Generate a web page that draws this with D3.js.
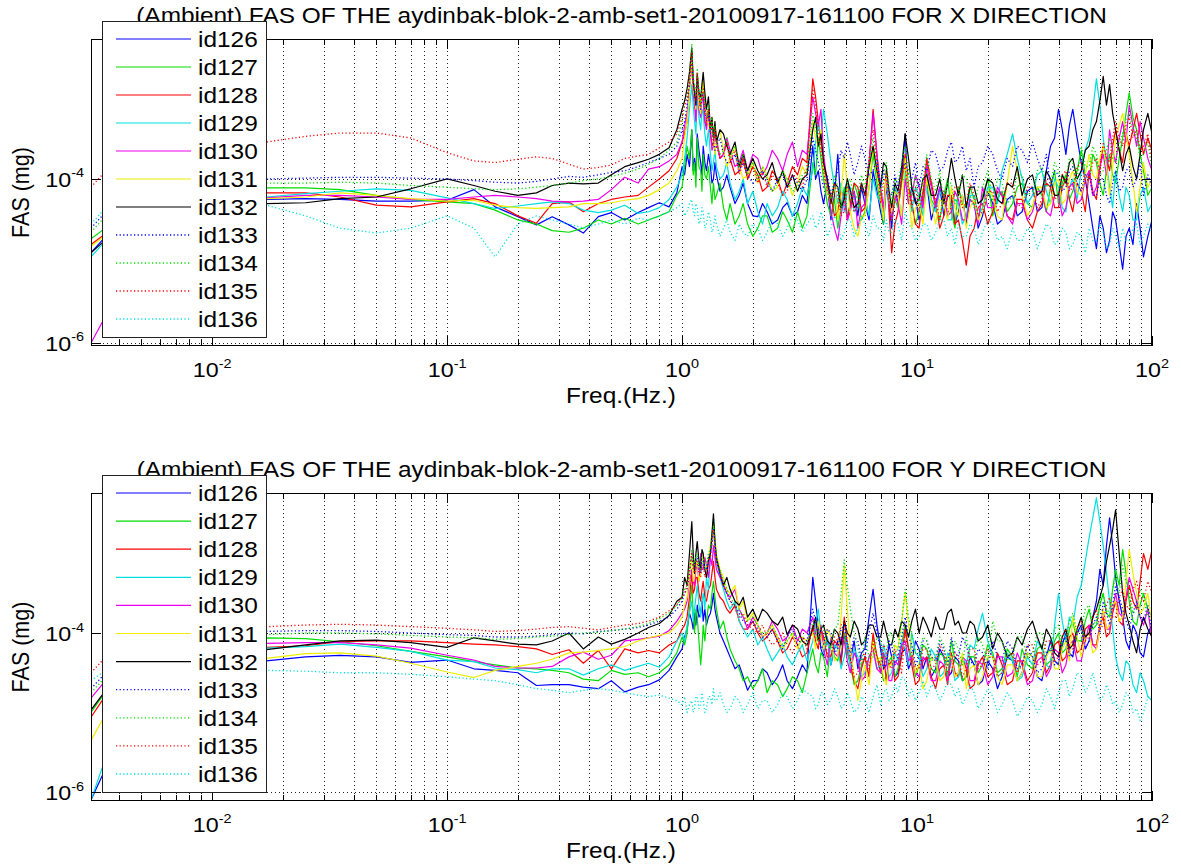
<!DOCTYPE html>
<html>
<head>
<meta charset="utf-8">
<script src="https://cdn.jsdelivr.net/npm/d3@7"></script>
<style>
  html, body { margin: 0; padding: 0; background: #fff; }
  svg text { font-family: "Liberation Sans", Arial, Helvetica, sans-serif; fill: #000; }
</style>
</head>
<body>
<svg id="fig" width="1181" height="868"></svg>
<script>
// ---------------------------------------------------------------
// Fourier amplitude spectra, ambient record, stations id126..id136
// values are log10(FAS in mg) on the shared frequency grid (Hz):
// 26 low-band samples, 41 around the 1 Hz peaks, 91 above 3.5 Hz
// ---------------------------------------------------------------
const freq = [
  0.00305, 0.0034, 0.005, 0.008, 0.012, 0.017, 0.025, 0.035, 0.05, 0.07, 0.1, 0.13, 0.16, 0.2, 0.24, 0.28, 0.33, 0.38, 0.44, 0.5, 0.57, 0.65, 0.72, 0.8, 0.88, 0.95,
  1.0, 1.025, 1.05, 1.075, 1.1, 1.115, 1.13, 1.145, 1.16, 1.18, 1.2, 1.215, 1.23, 1.25, 1.27, 1.295, 1.32, 1.34, 1.36, 1.38, 1.4, 1.45, 1.5, 1.55, 1.6, 1.68, 1.75, 1.82, 1.9, 2.0, 2.1, 2.2, 2.3, 2.42, 2.55, 2.68, 2.8, 2.95, 3.1, 3.25, 3.4,
  3.6, 3.7, 3.8, 3.9, 4.0, 4.15, 4.3, 4.45, 4.6, 4.75, 4.9, 5.05, 5.2, 5.4, 5.6, 5.8, 6.0, 6.25, 6.5, 6.75, 7.0, 7.2, 7.4, 7.6, 7.8, 8.05, 8.3, 8.6, 8.9, 9.2, 9.5, 9.85, 10.2, 10.6, 11, 11.5, 12, 12.5, 13, 13.5, 14, 14.5, 15, 15.6, 16.2, 16.8, 17.5, 18.2, 19, 20, 21, 22, 23, 24.2, 25.5, 26.7, 28, 29.5, 31, 32.5, 34, 35.5, 37, 38.5, 40, 41.5, 43, 44.5, 46, 48, 50, 52, 54, 56, 58, 60, 62, 64, 66, 68, 70, 72.5, 75, 77.5, 80, 83, 86, 89, 92, 96, 100
];

const stations = ["id126", "id127", "id128", "id129", "id130", "id131", "id132", "id133", "id134", "id135", "id136"];

// ---- X direction ----
const fasX126 = [
  -4.9, -4.75, -4.5, -4.35, -4.28, -4.25, -4.24, -4.25, -4.27, -4.27, -4.26, -4.13, -4.34, -4.46, -4.56, -4.46, -4.56, -4.66, -4.46, -4.41, -4.5, -4.41, -4.35, -4.29, -4.34, -4.17,
  -3.85, -3.95, -3.7, -3.85, -3.4, -3.9, -3.75, -3.95, -3.45, -3.65, -3.8, -3.95, -3.6, -3.8, -3.9, -3.7, -3.85, -4.05, -4.0, -3.8, -3.95, -4.15, -4.1, -3.95, -4.1, -4.3, -4.2, -4.05, -4.3, -4.45, -4.46, -4.3, -4.4, -4.55, -4.5, -4.35, -4.29, -4.45, -4.4, -4.2, -4.3,
  -3.6, -4.0, -3.9, -4.15, -4.3, -4.05, -4.5, -4.2, -3.7, -4.35, -4.2, -4.0, -4.35, -4.15, -4.45, -4.1, -4.3, -4.5, -3.9, -4.15, -4.4, -4.55, -4.1, -4.3, -4.6, -4.1, -4.3, -4.0, -3.45, -4.3,
  -4.1, -4.25, -4.5, -4.3, -4.05, -4.5, -4.3, -4.1, -4.45, -4.2, -4.25, -4.55, -4.4, -4.2, -4.55, -4.25, -4.3, -4.6, -4.45, -4.15, -4.3, -4.55, -4.5, -4.25, -4.2, -4.45, -4.4, -4.15, -4.1, -4.4,
  -4.35, -3.9, -3.6, -3.5, -3.15, -3.4, -3.7, -3.35, -3.15, -3.5, -3.8, -4.0, -4.3, -4.6, -4.85, -4.45, -4.6, -4.9, -4.75, -4.4, -4.5, -4.8, -5.1, -4.7, -4.6, -4.8, -4.3, -4.6, -4.95, -4.7, -4.5
];
const fasX127 = [
  -4.73, -4.63, -4.35, -4.18, -4.12, -4.11, -4.11, -4.13, -4.2, -4.25, -4.28, -4.3, -4.38, -4.5, -4.55, -4.63, -4.65, -4.6, -4.5, -4.55, -4.48, -4.55, -4.5, -4.45, -4.4, -4.2,
  -4.1, -3.85, -3.6, -3.75, -3.4, -3.95, -3.8, -4.1, -3.5, -3.85, -3.9, -4.15, -3.7, -3.95, -4.0, -3.85, -4.1, -4.3, -4.05, -4.25, -4.2, -4.05, -4.35, -4.5, -4.3, -4.55, -4.45, -4.3, -4.55, -4.7, -4.6, -4.45, -4.45, -4.65, -4.6, -4.4, -4.5, -4.65, -4.4, -4.6, -4.45,
  -3.8, -3.95, -3.5, -3.75, -4.0, -4.3, -4.45, -4.25, -4.6, -4.35, -4.1, -4.45, -4.3, -4.05, -4.2, -4.5, -4.4, -4.1, -3.7, -4.05, -4.3, -4.55, -3.9, -4.2, -4.5, -4.25, -4.35, -4.05, -3.8, -4.1,
  -4.3, -4.55, -4.4, -4.15, -3.9, -4.25, -4.35, -4.5, -4.2, -4.0, -4.4, -4.6, -4.1, -4.3, -4.35, -4.1, -4.25, -4.5, -4.2, -4.0, -4.45, -4.25, -4.15, -4.4, -4.3, -4.1, -4.05, -4.3, -4.35, -4.1,
  -4.2, -4.4, -4.1, -3.9, -4.3, -4.05, -3.95, -4.25, -4.15, -3.9, -3.65, -3.95, -4.0, -3.7, -3.8, -4.05, -4.2, -3.9, -3.7, -3.95, -4.05, -3.75, -3.5, -3.2, -2.95, -3.25, -3.4, -3.7, -3.9, -4.2, -4.1
];
const fasX128 = [
  -4.8, -4.7, -4.4, -4.25, -4.19, -4.17, -4.17, -4.22, -4.32, -4.34, -4.28, -4.24, -4.3, -4.45, -4.54, -4.3, -4.28, -4.4, -4.3, -4.25, -4.22, -4.2, -4.1, -4.0, -3.9, -3.75,
  -3.55, -3.45, -3.3, -2.9, -2.45, -2.85, -3.0, -3.2, -2.75, -3.05, -3.2, -2.95, -3.0, -3.3, -3.35, -3.15, -3.4, -3.6, -3.55, -3.35, -3.5, -3.75, -3.7, -3.55, -3.75, -3.95, -3.9, -3.75, -4.0, -3.85, -3.95, -4.15, -4.1, -3.9, -4.0, -4.2, -4.05, -3.85, -3.95, -3.75, -3.8,
  -2.78, -3.0, -3.3, -3.55, -3.8, -4.05, -4.2, -4.45, -4.4, -4.15, -4.2, -4.5, -4.3, -4.05, -4.1, -4.4, -4.35, -3.8, -3.15, -3.7, -4.2, -4.4, -3.9, -4.4, -4.9, -4.55, -4.4, -4.0, -3.7, -4.1,
  -4.3, -4.55, -4.6, -4.2, -3.75, -4.05, -4.3, -4.6, -4.45, -4.2, -4.2, -4.55, -4.5, -4.75, -5.05, -4.7, -4.6, -4.35, -4.3, -4.55, -4.4, -4.15, -4.2, -4.45, -4.5, -4.25, -4.25, -4.5, -4.6, -4.4,
  -4.3, -4.05, -4.1, -4.35, -4.35, -4.1, -4.0, -4.25, -4.4, -4.05, -4.15, -4.4, -3.9, -4.15, -4.25, -3.85, -3.6, -3.75, -3.9, -3.6, -3.4, -3.65, -3.8, -3.45, -3.6, -3.4, -3.2, -3.45, -3.7, -3.5, -3.65
];
const fasX129 = [
  -4.95, -4.8, -4.45, -4.28, -4.22, -4.22, -4.18, -4.15, -4.12, -4.14, -4.23, -4.3, -4.36, -4.33, -4.3, -4.28, -4.3, -4.38, -4.41, -4.38, -4.32, -4.42, -4.4, -4.35, -4.25, -4.1,
  -3.95, -3.75, -3.5, -3.15, -2.85, -3.1, -3.3, -3.45, -2.95, -3.25, -3.4, -3.15, -3.2, -3.45, -3.6, -3.4, -3.7, -3.9, -3.8, -3.65, -3.85, -4.0, -3.95, -3.8, -4.05, -4.25, -4.15, -4.0, -4.3, -4.15, -4.4, -4.55, -4.3, -4.45, -4.35, -4.15, -4.25, -4.45, -4.3, -4.1, -4.2,
  -3.9, -3.55, -3.3, -3.5, -3.15, -3.45, -3.8, -4.1, -4.3, -4.05, -4.4, -4.15, -4.1, -4.4, -4.35, -4.05, -4.2, -4.45, -4.0, -4.2, -4.3, -4.5, -4.05, -4.3, -4.4, -4.1, -4.2, -4.45, -3.9, -4.2,
  -4.4, -4.1, -4.2, -4.45, -4.1, -4.3, -4.4, -4.15, -4.25, -4.5, -4.5, -4.25, -4.3, -4.55, -4.45, -4.2, -4.2, -4.45, -4.35, -4.1, -4.1, -4.3, -3.9, -3.7, -3.45, -3.75, -4.0, -4.3, -4.2, -3.95,
  -3.9, -4.15, -4.3, -4.0, -4.1, -4.35, -4.4, -4.1, -4.0, -4.25, -3.9, -3.65, -3.5, -3.15, -2.78, -3.1, -3.5, -3.8, -4.1, -4.35, -3.9, -4.2, -4.4, -4.1, -4.2, -4.5, -4.5, -4.2, -4.1, -4.4, -4.3
];
const fasX130 = [
  -6.0, -5.75, -5.0, -4.45, -4.27, -4.23, -4.2, -4.2, -4.22, -4.25, -4.25, -4.22, -4.2, -4.22, -4.24, -4.27, -4.28, -4.27, -4.25, -4.13, -3.98, -4.05, -3.88, -3.85, -3.78, -3.7,
  -3.55, -3.35, -3.2, -2.9, -2.6, -2.95, -3.1, -3.3, -2.85, -3.15, -3.25, -3.0, -3.05, -3.3, -3.4, -3.2, -3.45, -3.65, -3.6, -3.4, -3.55, -3.75, -3.7, -3.5, -3.65, -3.85, -3.8, -3.65, -3.9, -3.7, -3.75, -3.95, -3.85, -3.65, -3.75, -3.9, -3.7, -3.55, -3.85, -3.65, -3.7,
  -3.0, -3.2, -3.35, -3.15, -3.7, -4.05, -4.4, -4.6, -4.75, -4.45, -4.2, -4.5, -4.4, -4.15, -4.6, -4.35, -4.3, -3.8, -3.2, -3.7, -4.1, -4.35, -4.0, -4.25, -4.5, -4.2, -4.3, -4.55, -4.0, -4.3,
  -4.2, -3.95, -4.1, -4.35, -3.85, -4.1, -4.35, -4.1, -4.2, -4.45, -4.4, -4.15, -4.25, -4.5, -4.5, -4.25, -4.3, -4.55, -4.1, -4.35, -4.35, -4.1, -4.2, -4.45, -4.55, -4.3, -4.3, -4.5, -4.4, -4.15,
  -4.15, -4.4, -4.45, -4.2, -4.2, -4.45, -4.35, -4.1, -4.05, -4.3, -4.25, -4.0, -3.9, -4.2, -4.1, -3.85, -3.7, -3.95, -3.4, -3.65, -3.8, -3.5, -3.3, -3.55, -3.1, -3.35, -3.6, -3.3, -3.5, -3.75, -3.9
];
const fasX131 = [
  -4.82, -4.72, -4.45, -4.3, -4.25, -4.24, -4.22, -4.17, -4.2, -4.24, -4.27, -4.26, -4.32, -4.35, -4.36, -4.35, -4.34, -4.3, -4.3, -4.29, -4.26, -4.24, -4.2, -4.13, -4.05, -3.9,
  -3.75, -3.5, -3.3, -2.95, -2.5, -2.9, -3.0, -3.15, -2.8, -3.1, -3.2, -2.95, -2.78, -3.05, -3.2, -3.35, -3.4, -3.25, -3.5, -3.7, -3.55, -3.4, -3.65, -3.85, -3.75, -3.6, -3.85, -4.0, -3.95, -3.8, -4.05, -3.85, -3.95, -4.15, -4.1, -3.9, -4.0, -4.2, -4.05, -3.85, -3.95,
  -3.3, -3.5, -3.6, -3.4, -3.9, -4.15, -4.3, -4.05, -4.5, -4.2, -3.7, -4.1, -4.4, -4.6, -4.7, -4.45, -4.45, -4.1, -3.6, -3.95, -4.25, -4.5, -3.95, -4.2, -4.4, -4.15, -4.2, -4.45, -3.75, -4.15,
  -4.6, -4.35, -4.3, -4.55, -4.0, -4.3, -4.55, -4.25, -4.3, -4.5, -4.1, -4.35, -4.45, -4.2, -4.6, -4.35, -4.25, -4.5, -4.4, -4.15, -4.2, -4.45, -4.5, -4.05, -3.6, -3.9, -4.2, -4.45, -4.35, -4.1,
  -4.1, -4.35, -4.3, -4.05, -4.0, -4.3, -4.25, -4.0, -3.9, -4.15, -4.2, -3.95, -3.7, -3.95, -4.0, -3.75, -3.6, -3.85, -4.2, -3.85, -3.5, -3.35, -3.2, -3.45, -3.7, -4.05, -4.4, -4.1, -3.8, -4.1, -4.0
];
const fasX132 = [
  -4.9, -4.78, -4.5, -4.35, -4.3, -4.3, -4.29, -4.24, -4.22, -4.12, -4.0, -4.08, -4.15, -4.2, -4.17, -4.08, -4.05, -4.06, -4.05, -3.95, -3.85, -3.8, -3.76, -3.7, -3.62, -3.4,
  -3.15, -3.05, -2.9, -2.7, -2.4, -2.8, -2.95, -3.1, -2.72, -2.95, -3.0, -2.85, -2.7, -2.95, -3.15, -3.0, -3.4, -3.25, -3.5, -3.3, -3.55, -3.4, -3.45, -3.6, -3.7, -3.55, -3.85, -3.7, -3.9, -3.75, -3.9, -4.0, -3.95, -3.8, -4.05, -3.9, -4.1, -3.95, -4.15, -4.0, -3.95,
  -3.4, -3.25, -3.6, -3.45, -3.8, -4.0, -4.3, -4.05, -4.1, -4.35, -4.25, -4.0, -4.15, -4.35, -4.3, -4.05, -4.2, -3.85, -3.6, -3.9, -4.1, -3.8, -3.85, -4.15, -4.35, -4.05, -4.15, -3.85, -3.45, -3.75,
  -4.1, -4.3, -4.25, -4.0, -3.95, -4.2, -4.2, -4.0, -4.3, -4.05, -3.75, -4.0, -4.2, -3.95, -4.35, -4.1, -4.1, -4.3, -4.25, -4.0, -4.05, -4.25, -4.3, -4.05, -4.1, -3.85, -4.2, -4.0, -3.95, -4.2,
  -4.15, -3.9, -4.0, -4.2, -4.2, -3.95, -4.05, -3.8, -3.75, -4.0, -3.9, -3.65, -3.6, -3.4, -3.3, -3.05, -2.75, -3.1, -2.85, -3.2, -3.4, -3.65, -3.9, -3.7, -3.6, -3.85, -4.0, -3.7, -3.4, -3.2, -3.45
];
const fasX133 = [
  -4.6, -4.45, -4.2, -4.08, -4.02, -4.0, -3.99, -3.98, -3.98, -3.99, -4.0, -4.02, -4.04, -4.05, -4.03, -4.0, -3.97, -3.98, -3.95, -3.92, -3.9, -3.85, -3.8, -3.75, -3.7, -3.6,
  -3.4, -3.3, -3.1, -2.85, -2.5, -2.85, -2.95, -3.1, -2.8, -3.0, -3.15, -3.0, -2.95, -3.15, -3.3, -3.2, -3.45, -3.35, -3.55, -3.65, -3.6, -3.5, -3.7, -3.8, -3.8, -3.7, -3.9, -3.8, -3.95, -4.05, -4.0, -3.9, -4.05, -4.15, -4.0, -3.95, -4.1, -3.95, -4.05, -4.15, -4.0,
  -3.5, -3.65, -3.8, -3.95, -4.1, -3.95, -4.2, -4.05, -3.9, -3.65, -3.75, -3.55, -3.7, -3.95, -3.8, -3.6, -3.75, -3.95, -3.9, -3.75, -4.1, -3.9, -4.0, -4.15, -4.2, -3.95, -4.1, -3.9, -3.8, -3.95,
  -4.0, -3.8, -4.1, -3.85, -3.9, -3.65, -3.7, -3.9, -3.85, -3.65, -3.55, -3.8, -3.75, -3.6, -3.9, -3.75, -4.1, -3.85, -3.8, -3.6, -3.7, -3.9, -4.0, -3.75, -3.85, -3.6, -3.65, -3.8, -3.55, -3.75,
  -3.9, -3.7, -4.1, -3.9, -3.95, -4.15, -4.1, -3.9, -3.85, -4.05, -4.15, -3.95, -3.95, -4.2, -4.2, -4.0, -4.0, -4.2, -4.3, -4.05, -3.9, -4.15, -4.1, -3.9, -3.85, -4.1, -4.0, -3.8, -4.2, -3.95, -4.1
];
const fasX134 = [
  -4.65, -4.5, -4.25, -4.12, -4.07, -4.05, -4.05, -4.04, -4.05, -4.08, -4.1, -4.12, -4.13, -4.12, -4.1, -4.08, -4.05, -4.02, -4.0, -3.97, -3.93, -3.88, -3.82, -3.75, -3.65, -3.55,
  -3.3, -3.1, -3.0, -2.75, -2.35, -2.75, -2.85, -3.0, -2.65, -2.95, -3.1, -2.9, -2.9, -3.1, -3.25, -3.1, -3.4, -3.25, -3.5, -3.35, -3.55, -3.7, -3.65, -3.5, -3.75, -3.6, -3.85, -3.7, -3.95, -3.8, -4.0, -3.85, -4.0, -4.15, -4.05, -3.9, -4.0, -4.15, -4.1, -3.95, -3.9,
  -3.2, -3.4, -3.5, -3.7, -3.9, -4.1, -4.25, -3.95, -4.1, -4.35, -4.3, -4.05, -4.0, -4.25, -4.2, -3.95, -4.1, -3.8, -3.5, -3.85, -4.2, -3.95, -3.8, -4.1, -4.3, -4.0, -4.05, -3.8, -3.6, -3.9,
  -4.2, -3.95, -4.3, -4.0, -3.7, -4.0, -4.15, -3.9, -4.3, -4.05, -4.05, -4.3, -4.2, -3.95, -4.0, -4.2, -4.35, -4.1, -4.1, -3.9, -4.25, -4.0, -4.05, -4.3, -4.2, -3.95, -3.95, -4.2, -4.15, -3.9,
  -3.85, -4.1, -4.05, -3.8, -3.9, -4.1, -4.0, -3.75, -3.8, -4.0, -3.6, -3.85, -3.85, -3.6, -3.7, -3.95, -3.9, -3.65, -3.5, -3.75, -3.8, -3.55, -3.45, -3.3, -3.2, -3.4, -3.5, -3.75, -3.7, -3.55, -3.9
];
const fasX135 = [
  -4.1, -3.95, -3.7, -3.6, -3.56, -3.55, -3.48, -3.44, -3.44, -3.5, -3.68, -3.78, -3.8, -3.76, -3.73, -3.75, -3.82, -3.88, -3.86, -3.83, -3.75, -3.72, -3.7, -3.62, -3.55, -3.45,
  -3.25, -3.1, -3.0, -2.8, -2.45, -2.8, -2.9, -3.05, -2.7, -2.95, -3.1, -2.95, -2.9, -3.1, -3.3, -3.15, -3.45, -3.3, -3.55, -3.4, -3.6, -3.75, -3.7, -3.55, -3.8, -3.65, -3.95, -3.8, -4.0, -3.85, -4.05, -3.9, -4.1, -3.95, -4.05, -4.2, -4.15, -3.95, -4.0, -4.1, -3.85,
  -2.9, -3.1, -3.4, -3.65, -3.9, -4.15, -4.3, -4.05, -4.2, -4.45, -4.4, -4.1, -4.15, -4.4, -4.35, -4.05, -4.2, -3.75, -3.4, -3.8, -4.3, -4.05, -3.95, -4.25, -4.5, -4.25, -4.2, -3.95, -3.85, -4.15,
  -4.35, -4.1, -4.4, -4.15, -3.8, -4.05, -4.25, -4.5, -4.15, -4.4, -4.35, -4.1, -4.1, -4.35, -4.3, -4.05, -4.2, -4.45, -4.4, -4.15, -4.15, -4.4, -4.3, -4.05, -4.05, -4.3, -4.35, -4.1, -4.1, -4.35,
  -4.25, -4.0, -4.0, -4.25, -4.2, -3.95, -3.9, -4.15, -4.1, -3.85, -3.8, -4.05, -4.0, -3.8, -3.75, -3.95, -3.55, -3.75, -3.8, -3.5, -3.3, -3.5, -3.6, -3.35, -3.25, -3.5, -3.4, -3.65, -3.6, -3.45, -3.8
];
const fasX136 = [
  -4.55, -4.4, -4.3, -4.28, -4.3, -4.32, -4.45, -4.6, -4.66, -4.6, -4.45, -4.6, -4.95, -4.55, -4.45, -4.5, -4.55, -4.6, -4.55, -4.5, -4.55, -4.48, -4.5, -4.45, -4.4, -4.35,
  -4.3, -4.45, -4.4, -4.3, -4.25, -4.4, -4.45, -4.3, -4.35, -4.55, -4.5, -4.35, -4.4, -4.6, -4.55, -4.4, -4.5, -4.65, -4.6, -4.45, -4.55, -4.7, -4.6, -4.5, -4.65, -4.75, -4.55, -4.65, -4.7, -4.55, -4.6, -4.75, -4.65, -4.5, -4.55, -4.7, -4.6, -4.45, -4.5, -4.65, -4.55,
  -4.45, -4.6, -4.55, -4.4, -4.5, -4.7, -4.6, -4.45, -4.55, -4.75, -4.65, -4.5, -4.5, -4.7, -4.6, -4.45, -4.55, -4.7, -4.45, -4.6, -4.6, -4.75, -4.5, -4.65, -4.65, -4.5, -4.55, -4.75, -4.4, -4.55,
  -4.6, -4.75, -4.7, -4.55, -4.55, -4.75, -4.65, -4.5, -4.5, -4.7, -4.6, -4.8, -4.55, -4.7, -4.7, -4.55, -4.6, -4.8, -4.65, -4.5, -4.55, -4.75, -4.7, -4.85, -4.6, -4.75, -4.75, -4.6, -4.65, -4.85,
  -4.7, -4.55, -4.6, -4.8, -4.75, -4.6, -4.65, -4.85, -4.8, -4.65, -4.7, -4.9, -4.6, -4.75, -4.75, -4.55, -4.65, -4.85, -4.8, -4.6, -4.7, -4.85, -4.6, -4.75, -4.75, -4.6, -4.55, -4.8, -4.7, -4.55, -4.65
];

// ---- Y direction ----
const fasY126 = [
  -6.1, -5.8, -4.9, -4.5, -4.38, -4.35, -4.3, -4.28, -4.3, -4.37, -4.34, -4.45, -4.47, -4.5, -4.66, -4.65, -4.65, -4.68, -4.7, -4.6, -4.74, -4.68, -4.65, -4.59, -4.47, -4.3,
  -4.2, -4.05, -3.95, -3.75, -3.85, -3.95, -3.75, -3.9, -3.65, -3.8, -3.75, -3.6, -3.85, -3.7, -3.9, -3.8, -3.75, -3.65, -3.5, -3.7, -3.8, -4.0, -4.1, -4.2, -4.3, -4.45, -4.4, -4.55, -4.72, -4.6, -4.6, -4.45, -4.5, -4.65, -4.55, -4.4, -4.6, -4.7, -4.55, -4.4, -4.5,
  -3.3, -3.6, -3.9, -4.2, -4.3, -4.05, -4.4, -4.2, -4.1, -4.35, -4.0, -4.25, -4.35, -4.1, -4.45, -4.25, -4.2, -3.8, -3.45, -3.9, -4.2, -4.45, -4.4, -4.15, -4.3, -4.55, -4.5, -4.25, -4.2, -4.45,
  -4.35, -4.1, -4.2, -4.45, -4.3, -4.55, -4.45, -4.2, -4.3, -4.55, -4.5, -4.3, -4.35, -4.6, -4.55, -4.3, -4.4, -4.65, -4.6, -4.35, -4.45, -4.7, -4.55, -4.3, -4.35, -4.6, -4.5, -4.25, -4.3, -4.55,
  -4.6, -4.3, -4.1, -4.35, -4.4, -4.15, -4.0, -4.25, -4.3, -4.0, -3.9, -4.2, -4.1, -3.8, -3.6, -3.2, -3.4, -2.9, -2.55, -2.9, -3.3, -3.6, -3.8, -4.1, -4.2, -3.9, -4.0, -4.25, -4.3, -4.0, -3.9
];
const fasY127 = [
  -5.0, -4.8, -4.3, -4.12, -4.07, -4.06, -4.07, -4.11, -4.16, -4.23, -4.3, -4.36, -4.4, -4.44, -4.45, -4.47, -4.5, -4.58, -4.6, -4.47, -4.52, -4.5, -4.55, -4.5, -4.4, -4.25,
  -4.05, -4.15, -4.0, -3.7, -3.4, -3.75, -4.0, -3.7, -3.8, -4.1, -4.4, -4.2, -3.9, -4.1, -3.85, -3.65, -3.7, -3.5, -3.35, -3.55, -3.7, -3.95, -3.85, -4.05, -4.2, -4.35, -4.45, -4.6, -4.55, -4.7, -4.6, -4.45, -4.75, -4.6, -4.65, -4.8, -4.7, -4.55, -4.6, -4.75, -4.5,
  -4.2, -4.4, -4.5, -4.25, -4.3, -4.55, -4.1, -4.3, -4.35, -4.1, -4.0, -4.25, -4.4, -4.65, -4.6, -4.4, -4.3, -4.55, -4.05, -4.3, -4.4, -4.6, -4.55, -4.35, -4.3, -4.55, -4.45, -4.15, -3.9, -4.2,
  -4.3, -4.55, -4.4, -4.15, -4.2, -4.45, -4.5, -4.25, -4.3, -4.55, -4.1, -4.35, -4.4, -4.6, -4.55, -4.3, -4.3, -4.5, -4.4, -4.15, -4.25, -4.5, -4.45, -4.2, -4.3, -4.55, -4.2, -4.4, -4.45, -4.2,
  -4.15, -4.4, -4.35, -4.1, -4.0, -4.25, -4.2, -3.95, -3.85, -4.1, -4.1, -3.85, -3.7, -3.95, -3.9, -3.65, -3.5, -3.75, -3.8, -3.45, -3.2, -3.4, -2.95, -3.25, -3.6, -3.85, -3.9, -3.65, -3.5, -3.7, -3.8
];
const fasY128 = [
  -5.06, -4.85, -4.35, -4.2, -4.18, -4.18, -4.16, -4.11, -4.1, -4.1, -4.12, -4.14, -4.15, -4.17, -4.2, -4.27, -4.21, -4.38, -4.22, -4.45, -4.2, -4.25, -4.22, -4.25, -4.15, -4.1,
  -3.95, -3.9, -3.8, -3.55, -3.25, -3.5, -3.45, -3.3, -3.3, -3.5, -3.6, -3.45, -3.35, -3.55, -3.6, -3.45, -3.4, -3.25, -3.1, -3.3, -3.45, -3.55, -3.6, -3.7, -3.75, -3.65, -3.85, -3.95, -3.95, -3.85, -4.0, -4.1, -4.05, -3.95, -4.1, -4.25, -4.2, -4.05, -4.15, -4.3, -4.25,
  -3.9, -4.1, -4.2, -3.95, -4.05, -4.3, -4.3, -4.1, -4.15, -4.4, -3.8, -4.15, -4.4, -4.6, -4.7, -4.45, -4.3, -4.55, -4.0, -4.3, -4.5, -4.25, -4.6, -4.4, -4.35, -4.6, -4.55, -4.3, -3.95, -4.2,
  -4.4, -4.65, -4.6, -4.35, -4.3, -4.55, -4.7, -4.45, -4.4, -4.65, -4.25, -4.5, -4.55, -4.3, -4.45, -4.7, -4.65, -4.4, -4.3, -4.55, -4.5, -4.25, -4.4, -4.65, -4.6, -4.35, -4.35, -4.6, -4.5, -4.25,
  -4.25, -4.5, -4.4, -4.15, -4.1, -4.35, -4.3, -4.05, -4.0, -4.25, -4.2, -3.95, -3.9, -4.15, -4.15, -3.9, -3.8, -4.05, -4.0, -3.75, -3.6, -3.85, -3.9, -3.6, -3.4, -3.6, -3.7, -3.35, -3.0, -3.2, -2.95
];
const fasY129 = [
  -6.1, -5.7, -4.7, -4.3, -4.2, -4.19, -4.17, -4.14, -4.18, -4.23, -4.34, -4.36, -4.44, -4.46, -4.5, -4.45, -4.45, -4.53, -4.45, -4.4, -4.47, -4.42, -4.38, -4.43, -4.3, -4.1,
  -4.0, -4.1, -3.9, -3.75, -3.6, -3.85, -3.7, -3.55, -3.4, -3.65, -3.8, -3.6, -3.5, -3.7, -3.3, -3.45, -3.0, -2.8, -2.55, -2.85, -3.1, -3.3, -3.45, -3.6, -3.7, -3.6, -3.85, -3.95, -4.05, -3.95, -4.15, -4.05, -4.2, -4.35, -4.25, -4.15, -4.3, -4.4, -4.25, -4.15, -4.35,
  -4.1, -3.9, -3.7, -4.0, -4.25, -4.05, -4.4, -4.15, -4.2, -4.45, -4.3, -4.1, -4.45, -4.2, -4.3, -4.55, -4.5, -4.3, -4.2, -4.45, -4.4, -4.15, -4.3, -4.55, -4.5, -4.25, -4.35, -4.1, -4.2, -4.4,
  -4.0, -4.25, -4.3, -4.55, -4.45, -4.2, -4.3, -4.55, -4.5, -4.25, -4.35, -4.6, -4.55, -4.3, -4.4, -4.15, -4.2, -3.95, -3.75, -4.1, -4.3, -4.55, -4.5, -4.25, -4.35, -4.6, -4.55, -4.3, -4.4, -4.1,
  -4.2, -4.4, -4.45, -3.9, -3.5, -3.85, -4.1, -3.8, -3.9, -3.55, -3.4, -3.1, -2.8, -2.55, -2.3, -2.6, -2.9, -3.25, -3.6, -3.95, -4.3, -4.5, -4.6, -4.35, -4.4, -4.65, -4.75, -4.5, -4.6, -4.8, -4.85
];
const fasY130 = [
  -4.82, -4.65, -4.28, -4.15, -4.13, -4.13, -4.12, -4.12, -4.15, -4.19, -4.28, -4.34, -4.42, -4.44, -4.44, -4.42, -4.3, -4.24, -4.33, -4.28, -4.1, -4.08, -4.06, -4.04, -3.97, -3.85,
  -3.75, -3.7, -3.6, -3.35, -3.2, -3.35, -3.4, -3.2, -3.15, -3.35, -3.0, -3.2, -3.2, -3.05, -3.15, -3.3, -3.05, -3.15, -2.9, -3.05, -3.2, -3.3, -3.4, -3.5, -3.55, -3.45, -3.7, -3.8, -3.95, -3.8, -3.9, -4.05, -4.0, -3.85, -3.95, -4.1, -4.05, -3.9, -4.1, -3.95, -4.0,
  -3.8, -4.0, -4.1, -3.9, -4.2, -4.4, -4.05, -4.25, -4.3, -4.05, -4.1, -4.35, -4.5, -4.25, -4.35, -4.6, -4.55, -4.3, -4.2, -4.45, -4.5, -4.25, -4.35, -4.6, -4.6, -4.35, -4.4, -4.15, -4.1, -4.35,
  -4.3, -4.5, -4.55, -4.3, -4.35, -4.6, -4.6, -4.35, -4.4, -4.6, -4.3, -4.55, -4.5, -4.3, -4.35, -4.6, -4.6, -4.35, -4.4, -4.65, -4.55, -4.3, -4.3, -4.55, -4.5, -4.25, -4.4, -4.65, -4.6, -4.35,
  -4.3, -4.55, -4.45, -4.2, -4.25, -4.5, -4.4, -4.15, -4.1, -4.35, -4.35, -4.1, -3.9, -4.15, -4.2, -3.95, -3.7, -3.95, -3.95, -3.7, -3.5, -3.75, -3.8, -3.55, -3.3, -3.45, -3.6, -3.8, -3.9, -3.7, -4.1
];
const fasY131 = [
  -5.35, -5.1, -4.55, -4.35, -4.32, -4.32, -4.26, -4.25, -4.29, -4.38, -4.49, -4.56, -4.47, -4.42, -4.38, -4.33, -4.25, -4.24, -4.22, -4.2, -4.17, -4.1, -4.06, -4.03, -4.0, -3.9,
  -3.8, -3.65, -3.55, -3.3, -3.05, -3.35, -3.3, -3.15, -3.1, -3.35, -3.25, -3.1, -3.0, -3.2, -3.2, -3.05, -2.9, -2.75, -2.6, -2.8, -3.0, -3.2, -3.3, -3.45, -3.5, -3.4, -3.7, -3.6, -3.85, -3.75, -3.9, -4.05, -4.0, -3.9, -4.05, -4.2, -4.1, -4.0, -4.2, -4.05, -4.1,
  -4.0, -4.2, -3.85, -4.05, -4.2, -3.95, -4.05, -4.35, -4.3, -3.8, -3.15, -3.7, -4.2, -4.55, -4.85, -4.6, -4.4, -4.65, -4.1, -4.35, -4.3, -4.55, -4.65, -4.4, -4.4, -4.15, -4.2, -3.85, -3.5, -3.9,
  -4.2, -4.5, -4.4, -4.7, -4.6, -4.3, -4.35, -4.6, -4.55, -4.3, -4.3, -4.55, -4.5, -4.25, -4.7, -4.45, -4.4, -4.65, -4.55, -4.3, -4.3, -4.55, -4.65, -4.4, -4.4, -4.6, -4.5, -4.25, -4.3, -4.55,
  -4.55, -4.3, -4.2, -4.45, -4.45, -4.2, -4.1, -4.35, -3.8, -4.05, -4.3, -4.05, -4.0, -4.25, -4.2, -3.95, -3.7, -3.95, -3.9, -3.65, -3.6, -3.85, -3.8, -3.35, -2.95, -3.25, -3.5, -3.75, -3.7, -3.5, -3.9
];
const fasY132 = [
  -4.97, -4.78, -4.4, -4.25, -4.22, -4.21, -4.15, -4.1, -4.09, -4.12, -4.18, -4.06, -4.1, -4.14, -4.15, -4.1, -4.0, -4.2, -4.05, -4.14, -4.08, -4.0, -3.93, -3.88, -3.78, -3.6,
  -3.55, -3.3, -3.4, -3.0, -2.6, -3.0, -3.25, -3.0, -2.85, -3.1, -3.2, -2.95, -3.0, -3.2, -3.3, -3.1, -3.0, -2.75, -2.5, -2.85, -3.05, -3.25, -3.4, -3.3, -3.45, -3.6, -3.65, -3.55, -3.8, -3.7, -3.85, -3.7, -3.75, -3.85, -3.9, -3.8, -4.02, -3.9, -3.95, -4.1, -4.15,
  -3.95, -3.8, -4.1, -3.95, -3.9, -4.1, -4.15, -3.95, -4.0, -4.15, -3.85, -4.0, -4.05, -3.85, -3.95, -4.15, -4.1, -3.9, -3.9, -4.05, -4.05, -3.85, -4.0, -4.15, -4.15, -3.95, -4.05, -3.85, -3.9, -4.05,
  -3.85, -3.7, -4.0, -3.8, -3.9, -4.05, -3.8, -3.95, -3.95, -3.75, -3.7, -3.9, -3.85, -4.0, -4.0, -3.85, -3.9, -4.1, -4.05, -3.9, -4.2, -4.0, -4.1, -4.3, -4.25, -4.05, -4.15, -3.95, -3.85, -4.05,
  -4.2, -3.95, -4.05, -4.25, -4.3, -4.05, -3.95, -4.2, -4.15, -3.95, -3.8, -4.05, -4.0, -3.8, -3.7, -3.55, -3.4, -3.1, -2.9, -2.7, -2.45, -3.0, -3.5, -3.75, -3.9, -4.1, -4.25, -3.95, -3.8, -3.95, -4.05
];
const fasY133 = [
  -4.7, -4.55, -4.2, -4.05, -4.0, -3.98, -3.97, -3.97, -3.98, -4.0, -4.02, -4.03, -4.05, -4.05, -4.04, -4.02, -4.0, -4.01, -3.98, -3.97, -3.95, -3.93, -3.9, -3.85, -3.8, -3.7,
  -3.6, -3.5, -3.45, -3.25, -3.0, -3.15, -3.2, -3.1, -3.05, -3.2, -3.25, -3.1, -3.1, -3.2, -3.2, -3.05, -3.0, -2.85, -2.7, -2.9, -3.1, -3.25, -3.4, -3.5, -3.6, -3.65, -3.75, -3.85, -3.9, -3.85, -3.95, -4.05, -4.05, -3.95, -4.1, -4.2, -4.05, -3.95, -4.15, -4.05, -4.1,
  -3.7, -3.85, -4.0, -4.2, -4.15, -3.95, -4.0, -4.25, -4.2, -3.95, -3.9, -4.15, -4.25, -4.05, -4.1, -4.35, -4.3, -4.0, -3.75, -4.0, -4.2, -4.45, -4.35, -4.1, -4.15, -4.4, -4.3, -4.05, -3.8, -4.05,
  -4.15, -4.4, -4.3, -4.1, -4.1, -4.3, -4.35, -4.1, -4.2, -4.4, -4.05, -4.25, -4.3, -4.05, -4.15, -4.35, -4.4, -4.2, -4.25, -4.45, -4.1, -4.3, -4.35, -4.1, -4.2, -4.45, -4.4, -4.15, -4.3, -4.5,
  -4.45, -4.25, -4.2, -4.4, -4.35, -4.1, -4.05, -4.3, -4.25, -4.0, -3.95, -4.2, -4.1, -3.9, -3.8, -4.0, -3.6, -3.75, -3.9, -3.65, -3.4, -3.55, -3.7, -3.85, -3.95, -3.75, -3.6, -3.8, -3.85, -3.65, -4.0
];
const fasY134 = [
  -4.75, -4.6, -4.25, -4.08, -4.03, -4.02, -4.0, -4.0, -4.01, -4.03, -4.05, -4.06, -4.08, -4.07, -4.05, -4.04, -4.02, -4.0, -3.99, -3.97, -3.95, -3.92, -3.88, -3.82, -3.75, -3.65,
  -3.55, -3.45, -3.4, -3.2, -2.95, -3.1, -3.15, -3.05, -3.0, -3.15, -3.2, -3.05, -3.05, -3.2, -3.15, -3.0, -2.95, -2.8, -2.65, -2.85, -3.05, -3.2, -3.35, -3.45, -3.55, -3.65, -3.7, -3.8, -3.85, -3.8, -3.9, -4.0, -4.0, -3.9, -4.05, -4.15, -4.1, -4.0, -4.05, -4.15, -4.15,
  -3.85, -4.0, -4.1, -3.9, -3.95, -4.15, -4.2, -3.95, -3.9, -3.5, -3.08, -3.4, -3.7, -4.0, -4.2, -4.4, -4.05, -4.3, -4.3, -4.05, -4.1, -4.35, -4.25, -4.0, -4.0, -4.25, -4.2, -3.85, -3.45, -3.8,
  -4.0, -4.25, -4.25, -4.05, -4.1, -4.35, -4.3, -4.05, -4.15, -4.4, -4.35, -4.1, -4.2, -4.4, -4.05, -4.3, -4.3, -4.05, -4.15, -4.35, -3.85, -4.1, -4.1, -4.35, -4.3, -4.05, -4.05, -4.3, -4.25, -4.0,
  -4.0, -4.25, -4.2, -3.95, -3.9, -4.15, -4.1, -3.85, -3.75, -4.0, -3.95, -3.7, -3.65, -3.9, -3.85, -3.6, -3.5, -3.75, -3.7, -3.45, -3.3, -3.5, -3.15, -3.35, -3.5, -3.75, -3.7, -3.45, -3.55, -3.8, -3.75
];
const fasY135 = [
  -4.5, -4.35, -4.05, -3.95, -3.92, -3.92, -3.9, -3.89, -3.9, -3.92, -3.94, -3.96, -3.98, -3.97, -3.95, -3.93, -3.92, -3.94, -3.96, -3.93, -3.9, -3.88, -3.85, -3.8, -3.72, -3.65,
  -3.55, -3.5, -3.4, -3.2, -3.0, -3.2, -3.25, -3.1, -3.1, -3.25, -3.3, -3.15, -3.15, -3.3, -3.25, -3.1, -3.05, -2.9, -2.7, -2.95, -3.1, -3.25, -3.4, -3.5, -3.6, -3.7, -3.8, -3.75, -3.9, -3.95, -4.0, -3.9, -4.05, -4.15, -4.1, -4.0, -4.15, -4.25, -4.1, -4.05, -4.2,
  -3.95, -4.1, -4.2, -3.95, -4.05, -4.25, -4.3, -4.05, -4.1, -3.9, -3.85, -4.1, -4.3, -4.55, -4.5, -4.3, -4.25, -4.45, -4.1, -4.3, -4.4, -4.15, -4.2, -4.4, -4.45, -4.2, -4.3, -4.5, -4.0, -4.2,
  -4.25, -4.45, -4.45, -4.2, -4.2, -4.45, -4.4, -4.15, -4.25, -4.5, -4.5, -4.25, -4.3, -4.55, -4.45, -4.2, -4.2, -4.45, -4.4, -4.2, -4.3, -4.55, -4.5, -4.3, -4.25, -4.5, -4.4, -4.15, -4.15, -4.4,
  -4.35, -4.1, -4.1, -4.35, -4.3, -4.05, -3.95, -4.2, -4.2, -3.95, -3.85, -4.1, -4.05, -3.8, -3.7, -3.95, -3.9, -3.65, -3.55, -3.8, -3.8, -3.55, -3.45, -3.65, -3.7, -3.45, -3.35, -3.55, -3.6, -3.35, -3.5
];
const fasY136 = [
  -4.6, -4.5, -4.45, -4.45, -4.46, -4.47, -4.48, -4.5, -4.5, -4.52, -4.55, -4.58, -4.6, -4.65, -4.7, -4.72, -4.75, -4.72, -4.7, -4.72, -4.75, -4.78, -4.8, -4.78, -4.82, -4.85,
  -4.9, -4.8, -5.0, -4.9, -4.85, -5.0, -4.95, -4.8, -4.8, -4.95, -4.9, -4.75, -4.85, -5.0, -4.95, -4.8, -4.8, -4.9, -4.7, -4.85, -4.85, -4.75, -4.9, -5.0, -4.95, -4.8, -4.85, -5.0, -4.9, -4.75, -4.95, -4.85, -4.85, -5.0, -4.9, -4.75, -4.8, -4.95, -4.85, -4.7, -4.75,
  -4.8, -4.95, -4.9, -4.75, -4.75, -4.9, -4.85, -4.7, -4.8, -4.95, -4.9, -4.75, -4.85, -5.0, -4.95, -4.8, -4.85, -5.0, -4.8, -4.65, -4.9, -4.75, -4.7, -4.85, -4.8, -4.65, -4.75, -4.55, -4.6, -4.8,
  -4.7, -4.85, -4.75, -4.6, -4.8, -4.65, -4.7, -4.85, -4.75, -4.6, -4.65, -4.8, -4.7, -4.9, -4.8, -4.65, -4.75, -4.95, -4.85, -4.7, -4.8, -5.0, -4.9, -4.75, -4.85, -5.05, -4.95, -4.8, -4.85, -5.0,
  -4.9, -4.7, -4.8, -4.95, -4.75, -4.6, -4.6, -4.8, -4.7, -4.5, -4.55, -4.75, -4.65, -4.5, -4.7, -4.85, -4.8, -4.65, -4.75, -4.9, -4.85, -5.0, -4.9, -4.75, -4.8, -5.0, -4.95, -5.1, -5.0, -4.8, -4.85
];

const xTickValues = [1e-2, 1e-1, 1e0, 1e1, 1e2];
const yTickValues = [1e-6, 1e-4];

// MATLAB line specs b g r c m y k, then b: g: r: c:
const lineColors = ["#0000ff", "#00dd00", "#ff0000", "#00e0e0", "#ee00ee", "#eeee00", "#000000",
                    "#0000ff", "#00dd00", "#ff0000", "#00e0e0"];
const lineDotted = [false, false, false, false, false, false, false, true, true, true, true];

const panels = [
  {
    title: "(Ambient) FAS OF THE aydinbak-blok-2-amb-set1-20100917-161100 FOR X DIRECTION",
    series: [fasX126, fasX127, fasX128, fasX129, fasX130, fasX131, fasX132, fasX133, fasX134, fasX135, fasX136],
    yDomain: [9.18e-7, 5.09e-3],
    top: 39, bottom: 346, titleY: 23, legendTop: 21, legendBottom: 337
  },
  {
    title: "(Ambient) FAS OF THE aydinbak-blok-2-amb-set1-20100917-161100 FOR Y DIRECTION",
    series: [fasY126, fasY127, fasY128, fasY129, fasY130, fasY131, fasY132, fasY133, fasY134, fasY135, fasY136],
    yDomain: [7.71e-7, 5.77e-3],
    top: 493, bottom: 801, titleY: 477, legendTop: 475, legendBottom: 792
  }
];

const LEFT = 91, RIGHT = 1152;
const xDomain = [0.00305, 100];
const SX = 1.11;   // horizontal glyph stretch of the exported figure

const svg = d3.select("#fig");
svg.append("rect").attr("width", 1181).attr("height", 868).attr("fill", "#fff");

function powerLabel(g, px, py, exponent, anchor) {
  const t = g.append("text")
    .attr("transform", `translate(${px},${py}) scale(${SX},1)`)
    .attr("text-anchor", anchor)
    .style("font-size", "21px");
  t.append("tspan").text("10");
  t.append("tspan").attr("dy", -9.5).style("font-size", "13px").text(exponent);
}

panels.forEach((p, pi) => {
  const g = svg.append("g");
  const x = d3.scaleLog().domain(xDomain).range([LEFT, RIGHT]);
  const y = d3.scaleLog().domain(p.yDomain).range([p.bottom, p.top]);

  // grid: decades and the 2..9 subdivisions
  const minor = [];
  for (let e = -3; e <= 1; e++) {
    for (let m = 2; m <= 9; m++) {
      const v = m * Math.pow(10, e);
      if (v > xDomain[0] && v < xDomain[1]) minor.push(v);
    }
  }
  const gridX = xTickValues.filter(v => v < xDomain[1]).concat(minor);
  const grid = g.append("g").attr("stroke", "#222").attr("stroke-width", 1)
    .attr("stroke-dasharray", "1,3").attr("shape-rendering", "crispEdges");
  gridX.forEach(v => {
    const gx = Math.round(x(v)) + 0.5;
    grid.append("line").attr("x1", gx).attr("x2", gx).attr("y1", p.top).attr("y2", p.bottom);
  });
  yTickValues.forEach(v => {
    const gy = Math.round(y(v)) + 0.5;
    grid.append("line").attr("x1", LEFT).attr("x2", RIGHT).attr("y1", gy).attr("y2", gy);
  });

  // spectra
  const clipId = "plotclip" + pi;
  svg.append("clipPath").attr("id", clipId).append("rect")
    .attr("x", LEFT).attr("y", p.top).attr("width", RIGHT - LEFT).attr("height", p.bottom - p.top);
  const lines = g.append("g").attr("clip-path", `url(#${clipId})`);
  const line = d3.line()
    .defined(d => Number.isFinite(d.v))
    .x(d => x(d.f))
    .y(d => y(Math.pow(10, d.v)));
  p.series.forEach((vals, si) => {
    const n = Math.min(freq.length, vals.length);
    const pts = freq.slice(0, n).map((f, i) => ({ f, v: vals[i] }));
    lines.append("path")
      .attr("d", line(pts))
      .attr("fill", "none")
      .attr("stroke", lineColors[si])
      .attr("stroke-width", lineDotted[si] ? 1.3 : 1.2)
      .attr("stroke-dasharray", lineDotted[si] ? "1.2,2.4" : null)
      .attr("stroke-linejoin", "round");
  });

  // box and ticks
  const ax = g.append("g").attr("stroke", "#000").attr("stroke-width", 1).attr("shape-rendering", "crispEdges");
  ax.append("rect").attr("x", LEFT + 0.5).attr("y", p.top + 0.5)
    .attr("width", RIGHT - LEFT - 1).attr("height", p.bottom - p.top - 1).attr("fill", "none");
  xTickValues.forEach(v => {
    const tx = Math.round(x(v)) + 0.5;
    ax.append("line").attr("x1", tx).attr("x2", tx).attr("y1", p.bottom).attr("y2", p.bottom - 10);
    ax.append("line").attr("x1", tx).attr("x2", tx).attr("y1", p.top).attr("y2", p.top + 10);
  });
  minor.forEach(v => {
    const tx = Math.round(x(v)) + 0.5;
    ax.append("line").attr("x1", tx).attr("x2", tx).attr("y1", p.bottom).attr("y2", p.bottom - 6);
    ax.append("line").attr("x1", tx).attr("x2", tx).attr("y1", p.top).attr("y2", p.top + 6);
  });
  yTickValues.forEach(v => {
    const ty = Math.round(y(v)) + 0.5;
    ax.append("line").attr("x1", LEFT).attr("x2", LEFT + 10).attr("y1", ty).attr("y2", ty);
    ax.append("line").attr("x1", RIGHT).attr("x2", RIGHT - 10).attr("y1", ty).attr("y2", ty);
  });

  // tick labels
  xTickValues.forEach(v => {
    powerLabel(g, x(v), p.bottom + 31, String(Math.round(Math.log10(v))), "middle");
  });
  yTickValues.forEach(v => {
    powerLabel(g, 84, y(v) + 8, String(Math.round(Math.log10(v))), "end");
  });

  // axis titles
  g.append("text")
    .attr("transform", `translate(621,${p.bottom + 57}) scale(${SX},1)`)
    .attr("text-anchor", "middle").style("font-size", "22px").text("Freq.(Hz.)");
  g.append("text")
    .attr("transform", `translate(29,${(p.top + p.bottom) / 2}) scale(${SX},1) rotate(-90)`)
    .attr("text-anchor", "middle").style("font-size", "21.5px").text("FAS (mg)");

  // title
  g.append("text")
    .attr("transform", `translate(621.5,${p.titleY}) scale(${SX},1)`)
    .attr("text-anchor", "middle").style("font-size", "22px").text(p.title);

  // legend (drawn last, opaque)
  const lg = g.append("g");
  lg.append("rect")
    .attr("x", 102.5).attr("y", p.legendTop + 0.5)
    .attr("width", 164).attr("height", p.legendBottom - p.legendTop)
    .attr("fill", "#fff").attr("stroke", "#222").attr("stroke-width", 1);
  const rowH = (p.legendBottom - p.legendTop - 36) / (stations.length - 1);
  stations.forEach((name, si) => {
    const cy = p.legendTop + 18 + si * rowH;
    lg.append("line")
      .attr("x1", 116).attr("x2", 191).attr("y1", cy).attr("y2", cy)
      .attr("stroke", lineColors[si])
      .attr("stroke-width", lineDotted[si] ? 1.3 : 1.2)
      .attr("stroke-dasharray", lineDotted[si] ? "1.2,2.4" : null);
    lg.append("text")
      .attr("transform", `translate(198,${cy + 8}) scale(${SX},1)`)
      .style("font-size", "22px").text(name);
  });
});
</script>
</body>
</html>
